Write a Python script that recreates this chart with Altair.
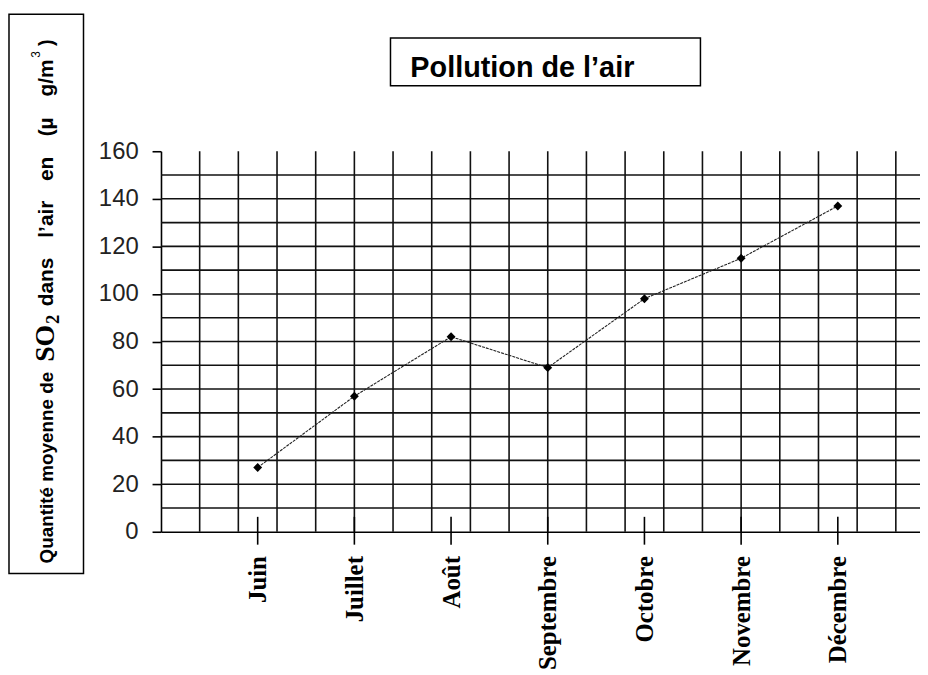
import altair as alt
import pandas as pd

# ---- data ----
months = ["Juin", "Juillet", "Août", "Septembre", "Octobre", "Novembre", "Décembre"]
positions = [1, 2, 3, 4, 5, 6, 7]
so2 = [27, 57, 82, 69, 98, 115, 137]

y_ticks = [0, 20, 40, 60, 80, 100, 120, 140, 160]
h_grid = [10, 20, 30, 40, 50, 60, 70, 80, 90, 100, 110, 120, 130, 140, 150]
v_grid = [0.4, 0.8, 1.2, 1.6, 2.0, 2.4, 2.8, 3.2, 3.6, 4.0, 4.4, 4.8,
          5.2, 5.6, 6.0, 6.4, 6.8, 7.2, 7.6]

chart_title = ["Pollution de l’air"]
y_title_a = ["Quantité  moyenne de"]
y_title_so = ["SO"]
y_title_sub = ["2"]
y_title_words = ["dans", "l’air", "en", "(µ", "g/m"]
y_title_sup = ["3"]
y_title_end = [")"]

df = pd.DataFrame({"pos": positions, "month": months, "so2": so2})
df_h = pd.DataFrame({"v": h_grid})
df_v = pd.DataFrame({"p": v_grid})

xscale = alt.Scale(domain=[0, 7.85], nice=False, zero=False)
yscale = alt.Scale(domain=[0, 160], nice=False)

label_expr = "[" + ",".join("'" + m + "'" for m in months) + "][datum.value - 1]"

x_axis = alt.Axis(
    values=positions,
    labelExpr=label_expr,
    title=None,
    grid=False,
    ticks=False,
    tickSize=0,
    labelPadding=24,
    labelAngle=270,
    labelFont="Liberation Serif",
    labelFontWeight="bold",
    labelFontSize=25,
    labelColor="black",
    domainColor="black",
    domainWidth=1.6,
    labelOverlap=False,
    labelBound=False,
)
y_axis = alt.Axis(
    values=y_ticks,
    title=None,
    grid=False,
    tickSize=9,
    tickColor="black",
    tickWidth=1.6,
    labelPadding=14,
    labelFont="Liberation Sans",
    labelFontSize=24,
    labelColor="#222222",
    domainColor="black",
    domainWidth=1.6,
    labelOverlap=False,
)

grid_color = "#111111"

hgrid = alt.Chart(df_h).mark_rule(color=grid_color, strokeWidth=1.6).encode(
    y=alt.Y("v:Q", scale=yscale, axis=y_axis)
)
vgrid = alt.Chart(df_v).mark_rule(color=grid_color, strokeWidth=1.6).encode(
    x=alt.X("p:Q", scale=xscale, axis=x_axis)
)

cat_ticks = alt.Chart(df).mark_rule(color="black", strokeWidth=1.6).encode(
    x=alt.X("pos:Q", scale=xscale, axis=x_axis),
    y=alt.value(368),
    y2=alt.value(396),
)

line = alt.Chart(df).mark_line(color="#222222", strokeWidth=1.1, strokeDash=[3, 1]).encode(
    x=alt.X("pos:Q", scale=xscale, axis=x_axis),
    y=alt.Y("so2:Q", scale=yscale, axis=y_axis),
)

points = alt.Chart(df).mark_point(shape="diamond", filled=True, color="black", size=80, opacity=1).encode(
    x=alt.X("pos:Q", scale=xscale, axis=x_axis),
    y=alt.Y("so2:Q", scale=yscale, axis=y_axis),
)


def txt(values, **kw):
    return alt.Chart(pd.DataFrame({"t": values})).mark_text(color="black", **kw)


title_box = txt(chart_title).mark_rect(fill="white", stroke="black", strokeWidth=1.5).encode(
    x=alt.value(231), x2=alt.value(543), y=alt.value(-114), y2=alt.value(-66)
)
title_text = txt(chart_title, font="Liberation Sans", fontWeight="bold", fontSize=29,
                 align="left", baseline="alphabetic").encode(
    x=alt.value(251), y=alt.value(-75), text="t:N")

ytitle_box = txt(y_title_a).mark_rect(fill="white", stroke="black", strokeWidth=1.5).encode(
    x=alt.value(-153), x2=alt.value(-78), y=alt.value(-138), y2=alt.value(425)
)
sans = dict(font="Liberation Sans", fontWeight="bold", angle=270, baseline="alphabetic", align="left")
yt_a = txt(y_title_a, fontSize=19, **sans).encode(
    x=alt.value(-109), y=alt.value(415), text="t:N")
yt_so = txt(y_title_so, font="Liberation Serif", fontWeight="bold", fontSize=28, angle=270,
            baseline="alphabetic", align="left").encode(
    x=alt.value(-108), y=alt.value(212), text="t:N")
yt_sub = txt(y_title_sub, font="Liberation Serif", fontWeight="bold", fontSize=19, angle=270,
             baseline="alphabetic", align="left").encode(
    x=alt.value(-103), y=alt.value(174), text="t:N")

word_layers = []
for w, start in zip(y_title_words, [156, 87, 30, -15, -55]):
    word_layers.append(
        txt([w], fontSize=21, **sans).encode(x=alt.value(-109), y=alt.value(start), text="t:N")
    )

yt_sup = txt(y_title_sup, fontSize=12, align="left", font="Liberation Sans", fontWeight="normal",
             angle=270, baseline="alphabetic").encode(
    x=alt.value(-122), y=alt.value(-94), text="t:N")
yt_end = txt(y_title_end, fontSize=20, **sans).encode(
    x=alt.value(-109), y=alt.value(-106), text="t:N")

chart = alt.layer(
    hgrid, vgrid, cat_ticks, line, points, title_box, title_text,
    ytitle_box, yt_a, yt_so, yt_sub, *word_layers, yt_sup, yt_end
).properties(
    width=764,
    height=383,
    autosize=alt.AutoSizeParams(type="none"),
    padding={"left": 154, "top": 142, "right": 0, "bottom": 142},
    background="white",
).configure_view(stroke=None)

chart.save("out.html", embed_options={"renderer": "svg", "actions": False})
